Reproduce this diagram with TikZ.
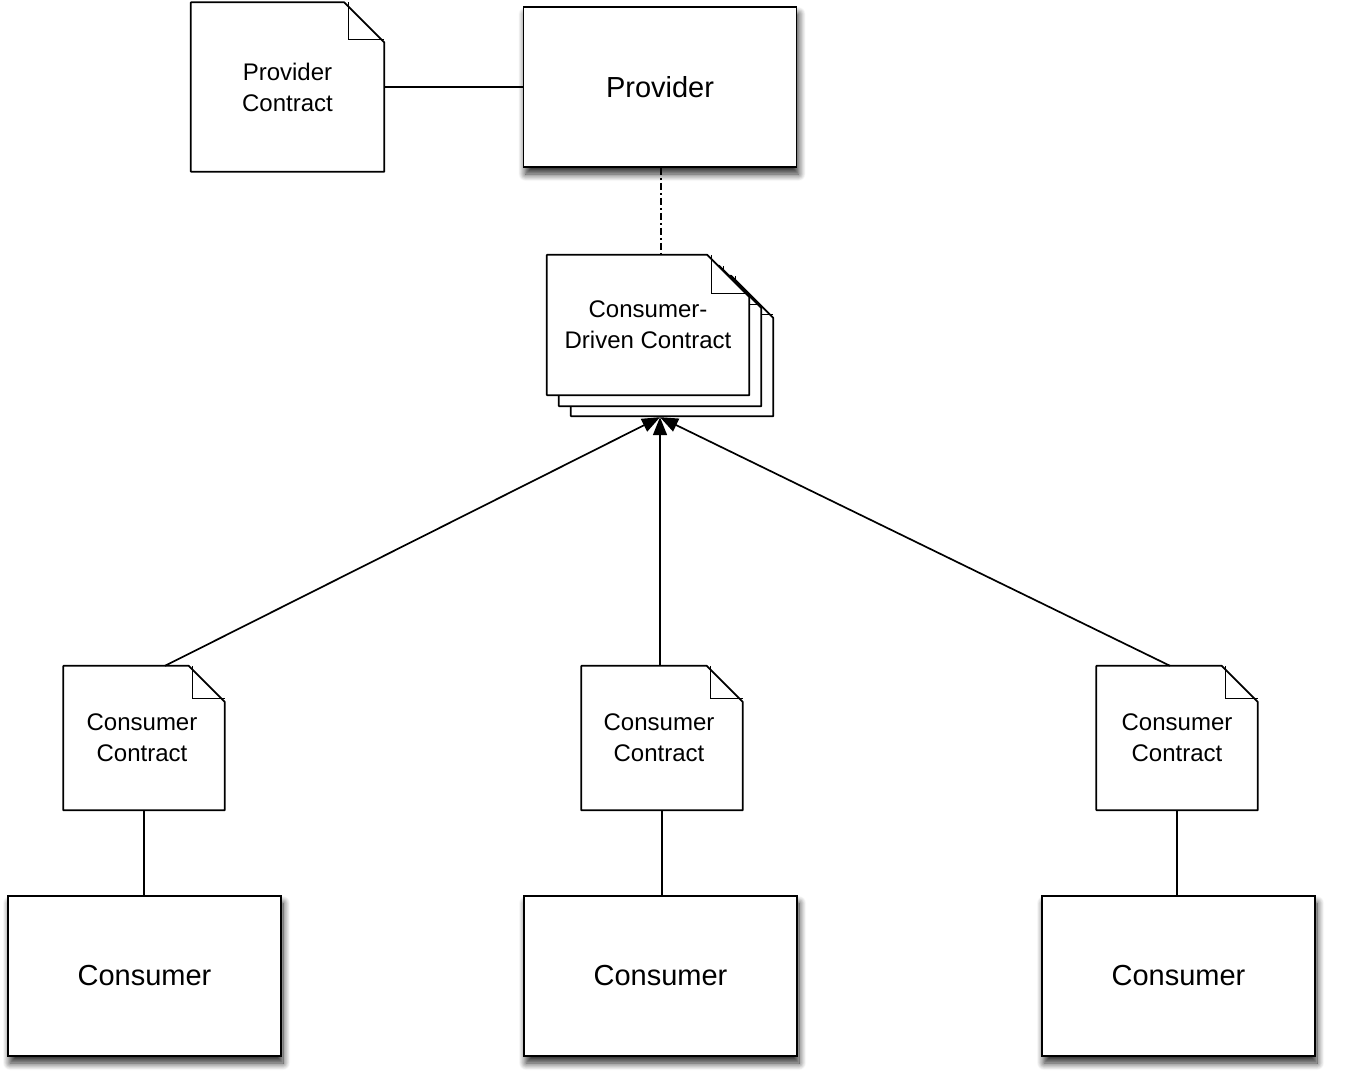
\documentclass[tikz,border=0pt]{standalone}
\usepackage{fontspec}
\setmainfont{Liberation Sans}
\usetikzlibrary{arrows.meta,shadows.blur}
\tikzset{
  x=1pt,y=-1pt,
  line/.style={draw=black,line width=1.7pt},
  boxnode/.style={line,fill=white,minimum width=273pt,minimum height=160pt,inner sep=0pt,
    font=\fontsize{29}{33}\selectfont,
    blur shadow={shadow xshift=2pt,shadow yshift=-7pt,shadow blur steps=12,shadow blur radius=7pt,shadow blur extra rounding=0pt,shadow opacity=85}},
  docnode/.style={inner sep=0pt,align=center,font=\fontsize{24}{31}\selectfont},
  docline/.style={line,fill=white,line join=round},
  arr/.style={line,-{Triangle[length=18pt,width=14pt]}},
  dashdot/.style={line,dash pattern=on 7pt off 3pt on 2pt off 3pt},
}
\newcommand\docpath[3]{% node, fold size, offset
  \draw[docline] ([shift={#3}]#1.north west) -- ([shift={#3},xshift=-#2]#1.north east)
    -- ([shift={#3},yshift=-#2]#1.north east) -- ([shift={#3}]#1.south east)
    -- ([shift={#3}]#1.south west) -- cycle;
  \draw[line,line width=1.3pt] ([shift={#3},xshift=-#2+4pt]#1.north east) |- ([shift={#3},yshift=-#2+3pt]#1.north east);
}
\begin{document}
\begin{tikzpicture}
\useasboundingbox (0,0) rectangle (1346,1073);
% documents (invisible nodes, outline drawn after)
\node[docnode,minimum width=193pt,minimum height=169pt] (pc) at (287.5,87) {};
\node[docnode,minimum width=202pt,minimum height=140pt] (cdc) at (648,325) {};
\node[docnode,minimum width=161pt,minimum height=144pt] (cc1) at (144,738) {};
\node[docnode,minimum width=161pt,minimum height=144pt] (cc2) at (662,738) {};
\node[docnode,minimum width=161pt,minimum height=144pt] (cc3) at (1177,738) {};
\docpath{pc}{40pt}{(0,0)}
\docpath{cdc}{42pt}{(24,21)}
\docpath{cdc}{42pt}{(12,11)}
\docpath{cdc}{42pt}{(0,0)}
\docpath{cc1}{36pt}{(0,0)}
\docpath{cc2}{36pt}{(0,0)}
\docpath{cc3}{36pt}{(0,0)}
\node[docnode] at (pc) {Provider\\Contract};
\node[docnode] at (cdc) {Consumer-\\Driven Contract};
\node[docnode] at ([xshift=-2pt]cc1.center) {Consumer\\Contract};
\node[docnode] at ([xshift=-3pt]cc2.center) {Consumer\\Contract};
\node[docnode] at (cc3) {Consumer\\Contract};
% boxes
\node[boxnode] (prov) at (660,87) {Provider};
\node[boxnode] (con1) at (144.5,976) {Consumer};
\node[boxnode] (con2) at (660.5,976) {Consumer};
\node[boxnode] (con3) at (1178.5,976) {Consumer};
% connectors
\draw[line] (pc.east) -- (prov.west |- pc.east);
\draw[dashdot] ([xshift=1pt]prov.south) -- ([xshift=13pt]cdc.north);
\coordinate (tip) at ([xshift=12pt,yshift=-22pt]cdc.south);
\draw[arr] ([xshift=21pt]cc1.north) -- (tip);
\draw[arr] ([xshift=-2pt]cc2.north) -- (tip);
\draw[arr] ([xshift=-7pt]cc3.north) -- (tip);
\draw[line] (cc1.south) -- (con1.north -| cc1.south);
\draw[line] (cc2.south) -- (con2.north -| cc2.south);
\draw[line] (cc3.south) -- (con3.north -| cc3.south);
\end{tikzpicture}
\end{document}
